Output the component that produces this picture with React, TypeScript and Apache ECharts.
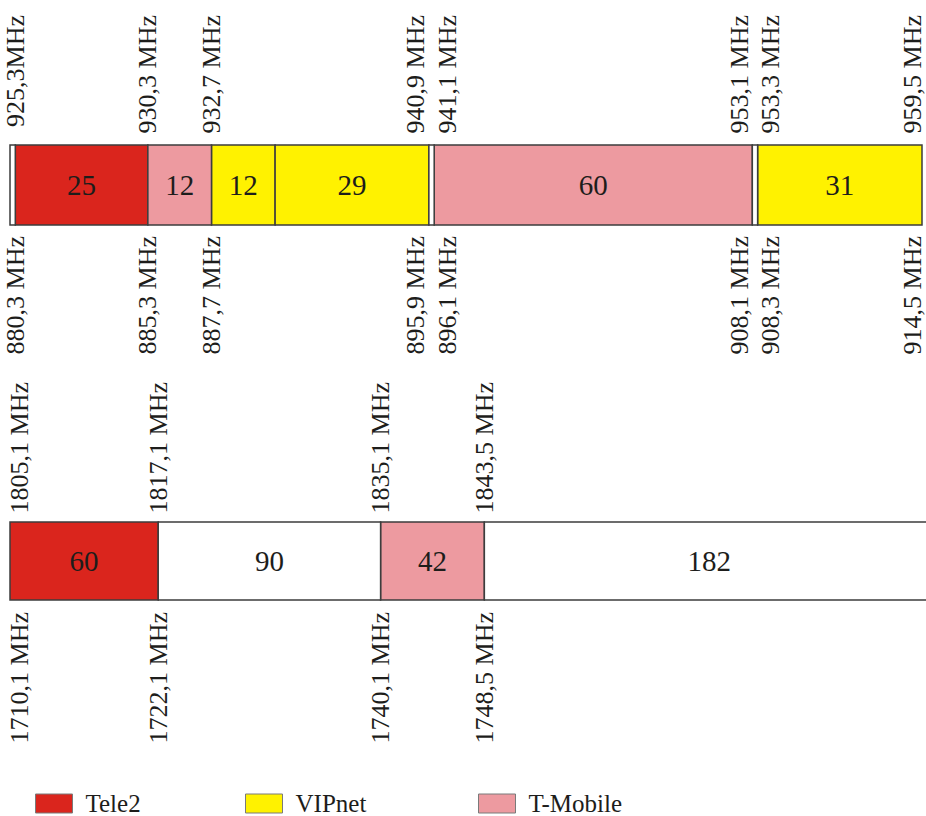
import React, { useEffect, useRef } from 'react';
import * as echarts from 'echarts';

// ---- data ----
const CHANNEL_WIDTH_MHZ = 0.2;

// GSM 900 band (positions on uplink frequencies)
const gsm900Starts = [880.1, 880.3, 885.3, 887.7, 890.1, 895.9, 896.1, 908.1, 908.3];
const gsm900Channels = [1, 25, 12, 12, 29, 1, 60, 1, 31];
const gsm900Operators = ['free', 'Tele2', 'T-Mobile', 'VIPnet', 'VIPnet', 'free', 'T-Mobile', 'free', 'VIPnet'];
const gsm900Labels = ['', '25', '12', '12', '29', '', '60', '', '31'];
const gsm900UplinkTicks = [880.3, 885.3, 887.7, 895.9, 896.1, 908.1, 908.3, 914.5];
const gsm900UplinkTickLabels = ['880,3 MHz', '885,3 MHz', '887,7 MHz', '895,9 MHz', '896,1 MHz', '908,1 MHz', '908,3 MHz', '914,5 MHz'];
const gsm900DownlinkTickLabels = ['925,3MHz', '930,3 MHz', '932,7 MHz', '940,9 MHz', '941,1 MHz', '953,1 MHz', '953,3 MHz', '959,5 MHz'];

// DCS 1800 band
const dcs1800Starts = [1710.1, 1722.1, 1740.1, 1748.5];
const dcs1800Channels = [60, 90, 42, 182];
const dcs1800Operators = ['Tele2', 'free', 'T-Mobile', 'free'];
const dcs1800Labels = ['60', '90', '42', '182'];
const dcs1800UplinkTicks = [1710.1, 1722.1, 1740.1, 1748.5];
const dcs1800UplinkTickLabels = ['1710,1 MHz', '1722,1 MHz', '1740,1 MHz', '1748,5 MHz'];
const dcs1800DownlinkTickLabels = ['1805,1 MHz', '1817,1 MHz', '1835,1 MHz', '1843,5 MHz'];

const legendOperators = ['Tele2', 'VIPnet', 'T-Mobile'];

// ---- styles ----
const COLORS: Record<string, string> = {
  Tele2: '#da251d',
  VIPnet: '#fff200',
  'T-Mobile': '#ed9aa0',
  free: '#ffffff',
};
const BORDER = '#3d3d3d';
const TEXT = '#1d1d1b';
const FONT = '"Liberation Serif", "Times New Roman", serif';
const LEGEND_LEFTS = [35, 245, 478];

const labelRich = {
  c: { fontFamily: FONT, fontSize: 26, color: TEXT },
  l: { fontFamily: FONT, fontSize: 26, color: TEXT, padding: [0, 0, 26, 0] },
  r: { fontFamily: FONT, fontSize: 26, color: TEXT, padding: [26, 0, 0, 0] },
  el: { fontFamily: FONT, fontSize: 26, color: TEXT, padding: [0, 0, 19, 0] },
  er: { fontFamily: FONT, fontSize: 26, color: TEXT, padding: [19, 0, 0, 0] },
};

function tickFormatter(ticks: number[], texts: string[], min: number, max: number) {
  return (value: number) => {
    let idx = 0;
    let best = Infinity;
    ticks.forEach((t, i) => {
      const d = Math.abs(t - value);
      if (d < best) {
        best = d;
        idx = i;
      }
    });
    const t = ticks[idx];
    const prevClose = idx > 0 && t - ticks[idx - 1] < 0.5;
    const nextClose = idx < ticks.length - 1 && ticks[idx + 1] - t < 0.5;
    let style = 'c';
    if (nextClose) style = 'l';
    else if (prevClose) style = 'r';
    else if (t - min < 0.1) style = 'er';
    else if (max - t < 0.1) style = 'el';
    return `{${style}|${texts[idx]}}`;
  };
}

function bandEnd(starts: number[], channels: number[]) {
  const i = starts.length - 1;
  return +(starts[i] + channels[i] * CHANNEL_WIDTH_MHZ).toFixed(1);
}

function buildSeries(
  gridIndex: number,
  starts: number[],
  channels: number[],
  operators: string[],
  labels: string[],
) {
  const groups = ['Tele2', 'VIPnet', 'T-Mobile', 'free'];
  return groups
    .map((op) => {
      const items = starts
        .map((s, i) => ({ s, e: +(s + channels[i] * CHANNEL_WIDTH_MHZ).toFixed(1), op: operators[i], label: labels[i] }))
        .filter((it) => it.op === op);
      if (!items.length) return null;
      const fill = COLORS[op];
      return {
        type: 'custom',
        name: op === 'free' ? 'free' + gridIndex : op,
        xAxisIndex: gridIndex * 2,
        yAxisIndex: gridIndex,
        itemStyle: { color: fill },
        clip: false,
        encode: { x: [0, 1], y: 2 },
        data: items.map((it) => [it.s, it.e, 0]),
        renderItem: (params: any, api: any) => {
          const it = items[params.dataIndex];
          const a = api.coord([it.s, 0]);
          const b = api.coord([it.e, 0]);
          const h = api.size([0, 1])[1];
          return {
            type: 'rect',
            shape: { x: a[0], y: a[1] - h / 2, width: b[0] - a[0], height: h },
            style: { fill, stroke: BORDER, lineWidth: 1.5 },
            textContent: it.label
              ? { style: { text: it.label, fill: TEXT, fontSize: 29, fontFamily: FONT } }
              : undefined,
            textConfig: { position: 'inside' },
          };
        },
      };
    })
    .filter(Boolean);
}

function axisPair(
  gridIndex: number,
  min: number,
  max: number,
  ticks: number[],
  bottomTexts: string[],
  topTexts: string[],
  topMargin: number,
  bottomMargin: number,
) {
  const base = {
    type: 'value',
    gridIndex,
    min,
    max,
    axisLine: { show: false },
    axisTick: { show: false },
    splitLine: { show: false },
  };
  return [
    {
      ...base,
      position: 'bottom',
      axisLabel: {
        customValues: ticks,
        rotate: 90,
        align: 'right',
        verticalAlign: 'middle',
        margin: bottomMargin,
        fontFamily: FONT,
        fontSize: 26,
        color: TEXT,
        formatter: tickFormatter(ticks, bottomTexts, min, max),
        rich: labelRich,
      },
    },
    {
      ...base,
      position: 'top',
      axisLabel: {
        customValues: ticks,
        rotate: -90,
        align: 'right',
        verticalAlign: 'middle',
        margin: topMargin,
        fontFamily: FONT,
        fontSize: 26,
        color: TEXT,
        formatter: tickFormatter(ticks, topTexts, min, max),
        rich: labelRich,
      },
    },
  ];
}

export default function App() {
  const ref = useRef<HTMLDivElement>(null);

  useEffect(() => {
    if (!ref.current) return;
    const chart = echarts.init(ref.current, undefined, { renderer: 'svg' });

    const min900 = gsm900Starts[0];
    const max900 = bandEnd(gsm900Starts, gsm900Channels);
    const min1800 = dcs1800Starts[0];
    const max1800 = bandEnd(dcs1800Starts, dcs1800Channels);

    const option: any = {
      animation: false,
      backgroundColor: '#ffffff',
      grid: [
        { left: 10, top: 145, width: 912, height: 80, outerBoundsMode: 'none', containLabel: false },
        { left: 10, top: 522, width: 924, height: 78, outerBoundsMode: 'none', containLabel: false },
      ],
      xAxis: [
        ...axisPair(0, min900, max900, gsm900UplinkTicks, gsm900UplinkTickLabels, gsm900DownlinkTickLabels, 130, 11),
        ...axisPair(1, min1800, max1800, dcs1800UplinkTicks, dcs1800UplinkTickLabels, dcs1800DownlinkTickLabels, 140, 12),
      ],
      yAxis: [
        { type: 'category', gridIndex: 0, data: ['GSM 900'], show: false },
        { type: 'category', gridIndex: 1, data: ['DCS 1800'], show: false },
      ],
      legend: legendOperators.map((name, i) => ({
        data: [name],
        left: LEGEND_LEFTS[i],
        top: 791,
        padding: 0,
        icon: 'rect',
        itemWidth: 37,
        itemHeight: 19,
        selectedMode: false,
        itemStyle: { borderColor: '#7a7a7a', borderWidth: 1 },
        textStyle: { fontFamily: FONT, fontSize: 25, lineHeight: 20, color: TEXT, padding: [0, 0, 0, 8] },
      })),
      series: [
        ...buildSeries(0, gsm900Starts, gsm900Channels, gsm900Operators, gsm900Labels),
        ...buildSeries(1, dcs1800Starts, dcs1800Channels, dcs1800Operators, dcs1800Labels),
      ],
    };

    chart.setOption(option);
    return () => {
      chart.dispose();
    };
  }, []);

  return (
    <div
      ref={ref}
      style={{ position: 'fixed', left: 0, top: 0, width: 926, height: 816, background: '#fff' }}
    />
  );
}
